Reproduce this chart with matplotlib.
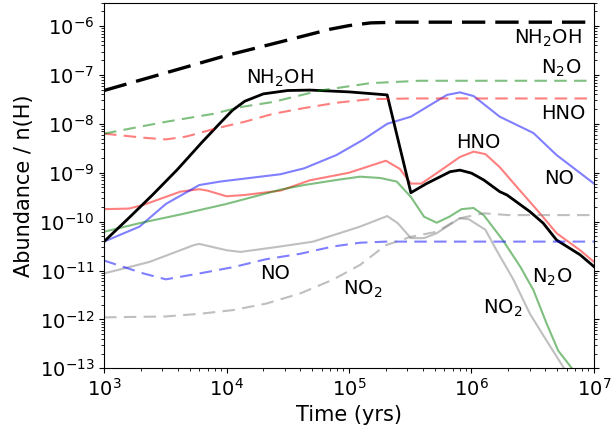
import matplotlib
matplotlib.use("Agg")
import matplotlib.pyplot as plt

# solid lines (one panel of abundances vs time)
t_nh2oh = [1e3, 1.585e3, 2.512e3, 3.981e3, 6.31e3, 8.91e3, 1.12e4, 1.41e4, 2.0e4, 3.16e4, 4.8e4,
           1e5, 2.05e5, 3.2e5, 4.3e5, 6.7e5, 8.05e5, 1e6, 1.26e6, 1.7e6, 1.95e6,
           3.0e6, 3.85e6, 4.95e6, 7.7e6, 1e7]
x_nh2oh = [3.9e-11, 1.17e-10, 3.6e-10, 1.17e-9, 4.2e-9, 1.05e-8, 1.9e-8, 2.9e-8, 4.1e-8, 4.8e-8, 4.9e-8,
           4.5e-8, 3.9e-8, 3.9e-10, 6.0e-10, 1.05e-9, 1.13e-9, 9.8e-10, 7.1e-10, 4.1e-10, 3.5e-10,
           1.6e-10, 9.3e-11, 4.2e-11, 2.1e-11, 1.2e-11]

t_hno = [1e3, 1.6e3, 2.1e3, 4.2e3, 6.0e3, 7.0e3, 1e4, 1.4e4, 2.75e4, 4.8e4, 1e5, 2.0e5, 2.6e5,
         3.2e5, 3.9e5, 5.2e5, 8.05e5, 1.04e6, 1.3e6, 1.7e6, 2.35e6, 3.6e6, 4.95e6, 7.7e6, 1e7]
x_hno = [1.8e-10, 1.85e-10, 2.2e-10, 4.1e-10, 4.6e-10, 4.3e-10, 3.3e-10, 3.5e-10, 4.3e-10, 7e-10, 1.0e-9,
         1.76e-9, 1.2e-9, 6.0e-10, 6.0e-10, 9.8e-10, 2.1e-9, 2.7e-9, 2.4e-9, 1.3e-9, 5.1e-10, 1.5e-10,
         5.8e-11, 2.6e-11, 1.5e-11]

t_no = [1e3, 1.95e3, 3.2e3, 6.0e3, 8.9e3, 2.75e4, 4.3e4, 7.9e4, 1.3e5, 2.05e5, 3.2e5, 6.3e5,
        8.05e5, 1.04e6, 1.7e6, 3.2e6, 4.95e6, 1e7]
x_no = [3.9e-11, 7.9e-11, 2.3e-10, 5.6e-10, 6.6e-10, 9.3e-10, 1.23e-9, 2.3e-9, 4.7e-9, 1.0e-8, 1.4e-8,
        3.9e-8, 4.4e-8, 3.7e-8, 1.4e-8, 6.5e-9, 2.3e-9, 6e-10]

t_n2o = [1e3, 1.95e3, 4.2e3, 1e4, 2.75e4, 4.3e4, 7.9e4, 1.23e5, 1.8e5, 2.45e5, 3.2e5, 4.1e5,
         5.2e5, 6.6e5, 8.3e5, 1.04e6, 1.26e6, 1.8e6, 2.5e6, 3.2e6, 4.1e6, 5.1e6, 6.6e6, 7e6]
x_n2o = [6.2e-11, 9.3e-11, 1.4e-10, 2.3e-10, 4.5e-10, 5.6e-10, 7.1e-10, 8.3e-10, 7.8e-10, 6.6e-10,
         3.2e-10, 1.26e-10, 9.5e-11, 1.26e-10, 1.8e-10, 1.9e-10, 1.35e-10, 4.2e-11, 1.2e-11, 4e-12,
         8.3e-13, 2.3e-13, 1e-13, 8e-14]

t_no2 = [1e3, 2.35e3, 5.4e3, 6.0e3, 1e4, 1.3e4, 2.75e4, 5.1e4, 1.23e5, 2.05e5, 2.5e5, 3.2e5,
         4.1e5, 5.2e5, 8.0e5, 9.5e5, 1.3e6, 1.6e6, 2.2e6, 3.0e6, 3.9e6, 5.6e6, 6e6]
x_no2 = [8.7e-12, 1.5e-11, 3.3e-11, 3.5e-11, 2.6e-11, 2.4e-11, 3.1e-11, 3.9e-11, 7.9e-11, 1.3e-10,
         9.3e-11, 4.6e-11, 4.6e-11, 5.8e-11, 1.17e-10, 1.12e-10, 6.8e-11, 2.6e-11, 6.5e-12, 1.3e-12,
         4.5e-13, 1.07e-13, 8e-14]

# dashed lines
t_nh2oh_d = [1e3, 1e4, 3e4, 7e4, 1e5, 1.5e5, 2.5e5, 1e7]
x_nh2oh_d = [4.8e-8, 2.5e-7, 5e-7, 8.6e-7, 1.02e-6, 1.16e-6, 1.2e-6, 1.2e-6]

t_n2o_d = [1e3, 1.95e3, 3.2e3, 7.8e3, 1.3e4, 2.4e4, 5.8e4, 1.5e5, 3.8e5, 1e7]
x_n2o_d = [6.3e-9, 8.7e-9, 1.1e-8, 1.6e-8, 2.2e-8, 2.8e-8, 4.8e-8, 6.8e-8, 7.6e-8, 7.6e-8]

t_hno_d = [1e3, 2.1e3, 3.2e3, 4.7e3, 8.3e3, 1.4e4, 2.4e4, 4.3e4, 7.9e4, 1.5e5, 3.2e5, 1e7]
x_hno_d = [6.3e-9, 5.2e-9, 4.8e-9, 5.5e-9, 8.1e-9, 1.1e-8, 1.6e-8, 2.1e-8, 2.7e-8, 3.2e-8, 3.3e-8, 3.3e-8]

t_no_d = [1e3, 2.1e3, 3.2e3, 6.0e3, 1.13e4, 2.1e4, 4.0e4, 7.4e4, 1.23e5, 2e5, 1e7]
x_no_d = [1.6e-11, 8.7e-12, 6.6e-12, 8.7e-12, 1.17e-11, 1.7e-11, 2.2e-11, 3.1e-11, 3.7e-11, 3.9e-11, 3.9e-11]

t_no2_d = [1e3, 3.2e3, 6.0e3, 1.13e4, 2.1e4, 4.0e4, 7.4e4, 1.23e5, 2.0e5, 3.2e5, 5.2e5, 8.0e5,
           1.26e6, 2e6, 1e7]
x_no2_d = [1.1e-12, 1.15e-12, 1.3e-12, 1.55e-12, 2.1e-12, 3.4e-12, 6.5e-12, 1.3e-11, 3.3e-11,
           4.9e-11, 6.2e-11, 1.17e-10, 1.48e-10, 1.36e-10, 1.36e-10]

# labels: (text, x, y) left / baseline
labels = [
    ("NH$_2$OH", 2.22e6, 4.4e-7),
    ("N$_2$O", 3.67e6, 1.08e-7),
    ("HNO", 3.67e6, 1.24e-8),
    ("HNO", 7.46e5, 3.24e-9),
    ("NO", 3.93e6, 5.8e-10),
    ("NH$_2$OH", 1.44e4, 6.7e-8),
    ("NO", 1.87e4, 6.6e-12),
    ("NO$_2$", 8.9e4, 3.26e-12),
    ("N$_2$O", 3.1e6, 5.6e-12),
    ("NO$_2$", 1.23e6, 1.33e-12),
]

fig = plt.figure(figsize=(6.14, 4.37), dpi=100)
ax = fig.add_axes([0.1694, 0.1572, 0.798, 0.8366])

ax.plot(t_hno, x_hno, color="r", alpha=0.5, lw=1.5)
ax.plot(t_no, x_no, color="b", alpha=0.5, lw=1.5)
ax.plot(t_n2o, x_n2o, color="g", alpha=0.5, lw=1.5)
ax.plot(t_no2, x_no2, color="0.5", alpha=0.5, lw=1.5)
ax.plot(t_nh2oh, x_nh2oh, color="k", lw=2)

dash = [6, 3.5]
ax.plot(t_hno_d, x_hno_d, color="r", alpha=0.5, lw=1.5, dashes=dash)
ax.plot(t_no_d, x_no_d, color="b", alpha=0.5, lw=1.5, dashes=dash)
ax.plot(t_n2o_d, x_n2o_d, color="g", alpha=0.5, lw=1.5, dashes=dash)
ax.plot(t_no2_d, x_no2_d, color="0.5", alpha=0.5, lw=1.5, dashes=dash)
ax.plot(t_nh2oh_d, x_nh2oh_d, color="k", lw=2.4, dashes=[7, 3])

for txt, xx, yy in labels:
    ax.text(xx, yy, txt, fontsize=14, ha="left", va="baseline")

ax.set_xscale("log")
ax.set_yscale("log")
ax.set_xlim(1e3, 1e7)
ax.set_ylim(1e-13, 3e-6)
ax.tick_params(which="both", right=True, labelsize=14)
ax.set_xlabel("Time (yrs)", fontsize=15)
ax.set_ylabel("Abundance / n(H)", fontsize=15)

fig.savefig("out.png", dpi=100)
